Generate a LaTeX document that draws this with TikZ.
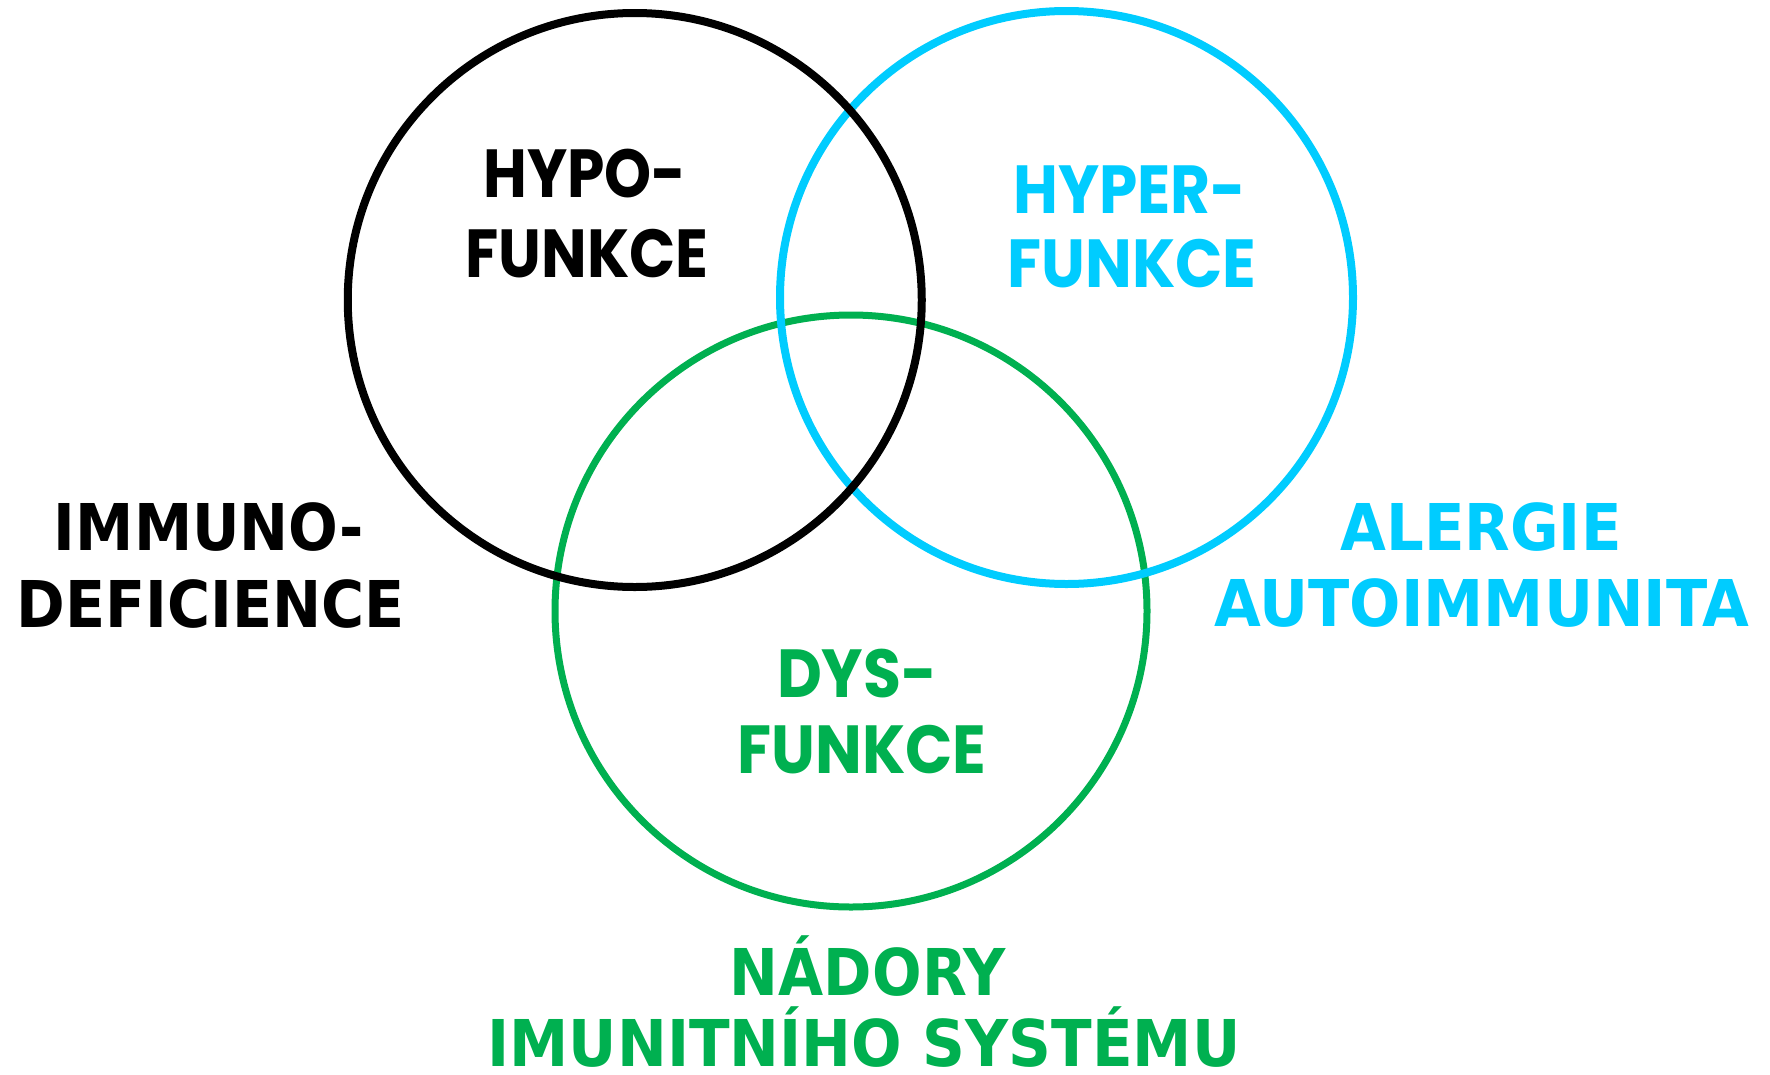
\documentclass[tikz,border=0pt]{standalone}
\usepackage{fontspec}
\usepackage{graphicx}
\setmainfont{DejaVu Sans}
\newfontfamily\hand{Poppins}
\definecolor{cblack}{HTML}{000000}
\definecolor{cblue}{HTML}{00CCFF}
\definecolor{cgreen}{HTML}{00B050}
\newcommand{\fitw}[2]{\resizebox{#1pt}{\height}{#2}}
\tikzset{
  ring/.style={line width=#1},
  biglab/.style={anchor=base, inner sep=0pt, font=\fontsize{64.5}{64.5}\selectfont\bfseries},
  handlab/.style={anchor=base, inner sep=0pt, font=\fontsize{68}{68}\hand\bfseries},
}
\begin{document}
\begin{tikzpicture}[x=1pt,y=-1pt]
\useasboundingbox (0,0) rectangle (1770,1074);
% circles
\draw[cgreen, ring=7pt] (851,611) circle[radius=296];
\draw[cblue, ring=8pt] (1066.5,297.5) circle[radius=286.5];
\draw[cblack, ring=8pt] (634.75,300) circle[radius=287];
% hand labels
\node[handlab, text=cblack] (hypo1) at (585,197) {\fitw{203}{HYPO-}};
\node[handlab, text=cblack] (hypo2) at (587,277) {\fitw{243}{FUNKCE}};
\node[handlab, text=cblue] (hyper1) at (1130,213) {\fitw{233}{HYPER-}};
\node[handlab, text=cblue] (hyper2) at (1132,287) {\fitw{249}{FUNKCE}};
\node[handlab, text=cgreen] (dys1) at (857,697) {\fitw{160}{DYS-}};
\node[handlab, text=cgreen] (dys2) at (862,773) {\fitw{249}{FUNKCE}};
% bold labels
\node[biglab, text=cblack] (imm1) at (209,550) {\fitw{310}{IMMUNO-}};
\node[biglab, text=cblack] (imm2) at (211,627) {\fitw{388}{DEFICIENCE}};
\node[biglab, text=cblue] (al1) at (1481,550) {\fitw{281}{ALERGIE}};
\node[biglab, text=cblue] (al2) at (1482,626) {\fitw{535}{AUTOIMMUNITA}};
\node[biglab, text=cgreen] (nad1) at (868,995) {\fitw{276}{NÁDORY}};
\node[biglab, text=cgreen] (nad2) at (864,1066) {\fitw{753}{IMUNITNÍHO SYSTÉMU}};
\end{tikzpicture}
\end{document}
